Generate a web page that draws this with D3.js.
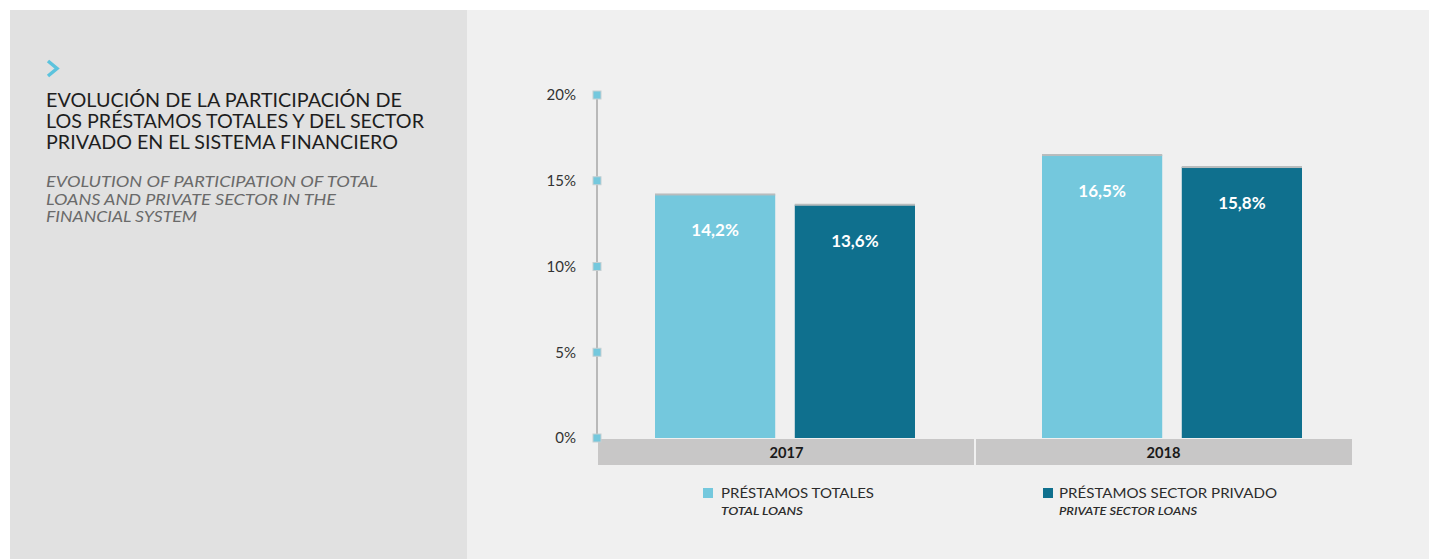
<!DOCTYPE html>
<html>
<head>
<meta charset="utf-8">
<script src="https://cdn.jsdelivr.net/npm/d3@7"></script>
<style>
  body { margin: 0; background: #ffffff; }
  svg { display: block; font-family: Lato, "Open Sans", sans-serif; }
</style>
</head>
<body>
<div id="chart"></div>
<script>
var years = ["2017", "2018"];
var seriesKeys = ["PRÉSTAMOS TOTALES", "PRÉSTAMOS SECTOR PRIVADO"];
var seriesSub = ["TOTAL LOANS", "PRIVATE SECTOR LOANS"];
var totalLoans = [14.2, 16.5];
var privateLoans = [13.6, 15.8];
var yTicks = [0, 5, 10, 15, 20];
var titleLines = ["EVOLUCIÓN DE LA PARTICIPACIÓN DE", "LOS PRÉSTAMOS TOTALES Y DEL SECTOR", "PRIVADO EN EL SISTEMA FINANCIERO"];
var subLines = ["EVOLUTION OF PARTICIPATION OF TOTAL", "LOANS AND PRIVATE SECTOR IN THE", "FINANCIAL SYSTEM"];

var colors = ["#74c8dd", "#0f708e"];

var W = 1429, H = 559;

var svg = d3.select("#chart")
    .append("svg")
    .attr("width", W)
    .attr("height", H);

// panels
svg.append("rect").attr("x", 10).attr("y", 10).attr("width", W - 10).attr("height", H - 10).attr("fill", "#f0f0f0");
svg.append("rect").attr("x", 10).attr("y", 10).attr("width", 457).attr("height", H - 10).attr("fill", "#e1e1e1");

// chevron
svg.append("path")
    .attr("d", "M48,61 L57,68.5 L48,76")
    .attr("fill", "none")
    .attr("stroke", "#5cc3dd")
    .attr("stroke-width", 3.5);

// title
svg.append("g").selectAll("text")
    .data(titleLines)
    .enter()
    .append("text")
    .attr("x", 46)
    .attr("y", function (d, i) { return 107 + i * 21; })
    .attr("textLength", function (d, i) { return [356, 378, 352][i]; })
    .attr("lengthAdjust", "spacingAndGlyphs")
    .style("font-size", "19px")
    .style("fill", "#1e1e1e")
    .text(function (d) { return d; });

svg.append("g").selectAll("text")
    .data(subLines)
    .enter()
    .append("text")
    .attr("x", 46)
    .attr("y", function (d, i) { return 187 + i * 17.5; })
    .attr("textLength", function (d, i) { return [332, 290, 151][i]; })
    .attr("lengthAdjust", "spacingAndGlyphs")
    .style("font-size", "15px")
    .style("font-style", "italic")
    .style("fill", "#6a6a6a")
    .text(function (d) { return d; });

// scales
// grey category strip
var xCat = d3.scaleBand()
    .domain(years)
    .range([598, 1352])
    .padding(0);

// bar groups (the groups sit a little right of the strip centre)
var x0 = d3.scaleBand()
    .domain(years)
    .range([598, 1372])
    .padding(0);

var x1 = d3.scaleBand()
    .domain(seriesKeys)
    .range([57, 317])
    .paddingInner(0.14);

var y = d3.scaleLinear()
    .domain([0, 20])
    .range([438, 95]);

// category band
svg.append("g").selectAll("rect")
    .data(years)
    .enter()
    .append("rect")
    .attr("x", function (d, i) { return xCat(d) + (i > 0 ? 1 : 0); })
    .attr("y", 439)
    .attr("width", xCat.bandwidth() - 1)
    .attr("height", 26)
    .attr("fill", "#c8c7c7");

svg.append("g").selectAll("text")
    .data(years)
    .enter()
    .append("text")
    .attr("x", function (d) { return xCat(d) + xCat.bandwidth() / 2; })
    .attr("y", 458)
    .attr("text-anchor", "middle")
    .attr("textLength", 34)
    .attr("lengthAdjust", "spacingAndGlyphs")
    .style("font-size", "15px")
    .style("font-weight", "bold")
    .style("fill", "#1a1a1a")
    .text(function (d) { return d; });

// y axis
var yAxis = svg.append("g")
    .attr("transform", "translate(597,0)")
    .call(d3.axisLeft(y).tickValues(yTicks).tickSize(0).tickPadding(21)
        .tickFormat(function (d) { return d + "%"; }));
yAxis.select(".domain").remove();
yAxis.selectAll("text")
    .style("font-family", "Lato, 'Open Sans', sans-serif")
    .style("font-size", "15px")
    .style("fill", "#333");

svg.append("line")
    .attr("x1", 597).attr("x2", 597)
    .attr("y1", y(20)).attr("y2", y(0))
    .attr("stroke", "#b9b9b9")
    .attr("stroke-width", 2);

svg.append("g").selectAll("rect")
    .data(yTicks)
    .enter()
    .append("rect")
    .attr("x", 593)
    .attr("y", function (d) { return y(d) - 4; })
    .attr("width", 8)
    .attr("height", 8)
    .attr("fill", "#74c8dd")
    .attr("stroke", "#c4cfd2")
    .attr("stroke-width", 1);

// bars
var barData = [];
years.forEach(function (yr, i) {
    barData.push({ year: yr, key: seriesKeys[0], value: totalLoans[i], color: colors[0] });
    barData.push({ year: yr, key: seriesKeys[1], value: privateLoans[i], color: colors[1] });
});

var bars = svg.append("g").selectAll("g")
    .data(barData)
    .enter()
    .append("g")
    .attr("transform", function (d) { return "translate(" + (x0(d.year) + x1(d.key)) + ",0)"; });

bars.append("rect")
    .attr("x", 0)
    .attr("y", function (d) { return y(d.value); })
    .attr("width", x1.bandwidth())
    .attr("height", function (d) { return y(0) - y(d.value); })
    .attr("fill", function (d) { return d.color; });

// thin shade on top of each bar
bars.append("rect")
    .attr("x", 0)
    .attr("y", function (d) { return y(d.value) - 1; })
    .attr("width", x1.bandwidth())
    .attr("height", 2)
    .attr("fill", "#b8bcbd");

bars.append("text")
    .attr("x", x1.bandwidth() / 2)
    .attr("y", function (d) { return y(d.value) + 42; })
    .attr("text-anchor", "middle")
    .style("font-size", "17px")
    .style("font-weight", "bold")
    .style("fill", "#ffffff")
    .text(function (d) { return d.value.toFixed(1).replace(".", ",") + "%"; });

// legend
var legendX = [703, 1043];
var legend = svg.append("g").selectAll("g")
    .data(seriesKeys)
    .enter()
    .append("g")
    .attr("transform", function (d, i) { return "translate(" + legendX[i] + ",0)"; });

legend.append("rect")
    .attr("x", 0)
    .attr("y", 488)
    .attr("width", 10)
    .attr("height", 10)
    .attr("fill", function (d, i) { return colors[i]; });

legend.append("text")
    .attr("x", function (d, i) { return i === 0 ? 18 : 16; })
    .attr("y", 498)
    .attr("textLength", function (d, i) { return [153, 218][i]; })
    .attr("lengthAdjust", "spacingAndGlyphs")
    .style("font-size", "14px")
    .style("fill", "#2b2b2b")
    .text(function (d) { return d; });

legend.append("text")
    .attr("x", function (d, i) { return i === 0 ? 18 : 16; })
    .attr("y", 515)
    .attr("textLength", function (d, i) { return [82, 138][i]; })
    .attr("lengthAdjust", "spacingAndGlyphs")
    .style("font-size", "12px")
    .style("font-style", "italic")
    .style("font-weight", "600")
    .style("fill", "#2b2b2b")
    .text(function (d, i) { return seriesSub[i]; });
</script>
</body>
</html>
